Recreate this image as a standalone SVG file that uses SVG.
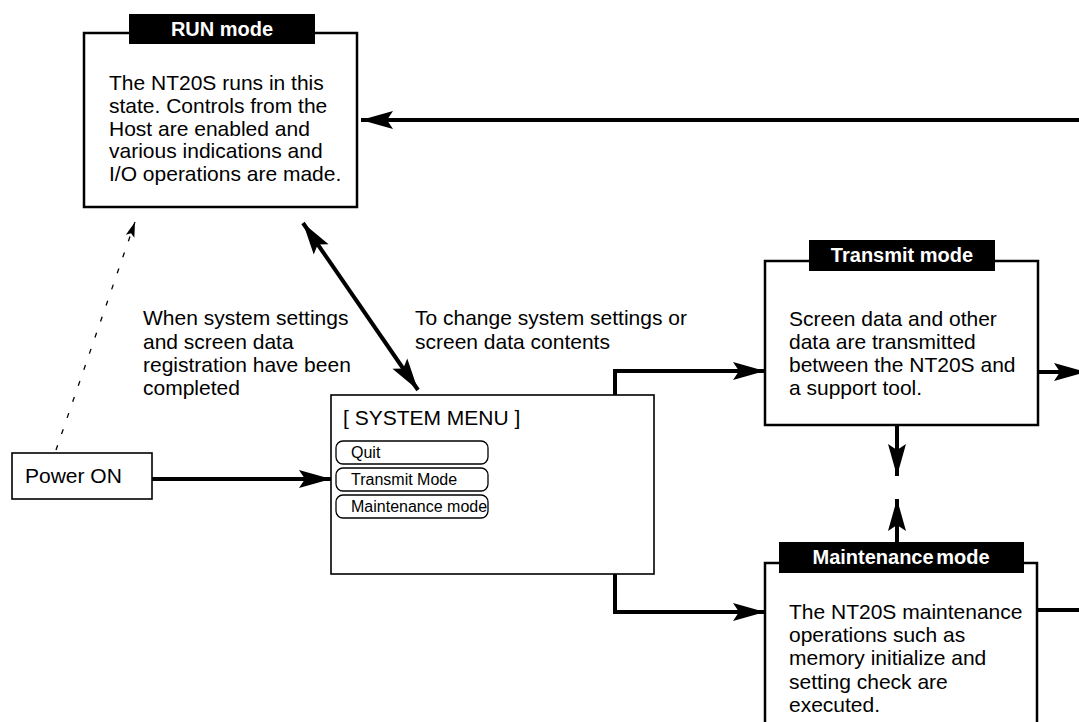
<svg xmlns="http://www.w3.org/2000/svg" width="1079" height="722" viewBox="0 0 1079 722">
<defs>
<style>
text{font-family:"Liberation Sans",Arial,sans-serif;fill:#000}
.body{font-size:21px}
.title{font-size:20px;font-weight:bold;fill:#fff}
.menu{font-size:16px}
.box{fill:#fff;stroke:#000;stroke-width:2.5}
.thin{fill:#fff;stroke:#000;stroke-width:1.6}
.btn{fill:#fff;stroke:#000;stroke-width:1.3}
.bar{fill:#000}
.conn{fill:none;stroke:#000;stroke-width:4}
.dash{fill:none;stroke:#000;stroke-width:1.3;stroke-dasharray:5 12}
</style>
<marker id="ah" markerUnits="userSpaceOnUse" markerWidth="36" markerHeight="22" viewBox="-34 -11 36 22" refX="0" refY="0" orient="auto-start-reverse">
<path d="M0,0 L-32,-9 L-26,0 L-32,9 Z" fill="#000"/>
</marker>
<marker id="ahs" markerUnits="userSpaceOnUse" markerWidth="18" markerHeight="12" viewBox="-16 -6 18 12" refX="0" refY="0" orient="auto">
<path d="M0,0 L-15,-4.5 L-12,0 L-15,4.5 Z" fill="#000"/>
</marker>
</defs>

<g id="connectors">
<line class="conn" x1="1079" y1="120" x2="361" y2="120" marker-end="url(#ah)"/>
<line class="conn" x1="303" y1="223" x2="418" y2="390" stroke-width="3.5" marker-start="url(#ah)" marker-end="url(#ah)"/>
<line class="conn" x1="152" y1="479" x2="331" y2="479" marker-end="url(#ah)"/>
<polyline class="conn" points="495,479 615,479 615,371 765,371" marker-end="url(#ah)"/>
<polyline class="conn" points="495,507 615,507 615,612 765,612" marker-end="url(#ah)"/>
<line class="conn" x1="897" y1="425" x2="897" y2="476" stroke-width="3.5" marker-end="url(#ah)"/>
<line class="conn" x1="897" y1="542" x2="897" y2="499" stroke-width="3.5" marker-end="url(#ah)"/>
<line class="conn" x1="1038" y1="372" x2="1086" y2="372" stroke-width="3.5" marker-end="url(#ah)"/>
<line class="conn" x1="1037" y1="610" x2="1079" y2="610" stroke-width="3.5"/>
<line class="dash" x1="56" y1="450" x2="135" y2="222" marker-end="url(#ahs)"/>
</g>

<g id="labels">
<text class="body" x="143" y="325">When system settings</text>
<text class="body" x="143" y="349">and screen data</text>
<text class="body" x="143" y="372">registration have been</text>
<text class="body" x="143" y="395">completed</text>
<text class="body" x="415" y="325">To change system settings or</text>
<text class="body" x="415" y="349">screen data contents</text>
</g>

<g id="run-mode">
<rect class="box" x="84" y="33" width="273" height="174"/>
<rect class="bar" x="129" y="14" width="186" height="30"/>
<text class="title" x="222" y="36" text-anchor="middle">RUN mode</text>
<text class="body" x="109" y="90">The NT20S runs in this</text>
<text class="body" x="109" y="113">state. Controls from the</text>
<text class="body" x="109" y="136">Host are enabled and</text>
<text class="body" x="109" y="158">various indications and</text>
<text class="body" x="109" y="181">I/O operations are made.</text>
</g>

<g id="power-on">
<rect class="thin" x="12" y="453" width="140" height="46"/>
<text class="body" x="25" y="483">Power ON</text>
</g>

<g id="system-menu">
<rect class="thin" x="331" y="395" width="323" height="179"/>
<text class="body" x="343" y="425">[ SYSTEM MENU ]</text>
<rect class="btn" x="336" y="441" width="152" height="23" rx="7"/>
<text class="menu" x="351" y="458">Quit</text>
<rect class="btn" x="336" y="468" width="152" height="23" rx="7"/>
<text class="menu" x="351" y="485">Transmit Mode</text>
<rect class="btn" x="336" y="495" width="152" height="23" rx="7"/>
<text class="menu" x="351" y="512">Maintenance mode</text>
</g>

<g id="transmit-mode">
<rect class="box" x="765" y="261" width="273" height="164"/>
<rect class="bar" x="809" y="240" width="186" height="31"/>
<text class="title" x="902" y="262" text-anchor="middle">Transmit mode</text>
<text class="body" x="789" y="326">Screen data and other</text>
<text class="body" x="789" y="349">data are transmitted</text>
<text class="body" x="789" y="372">between the NT20S and</text>
<text class="body" x="789" y="395">a support tool.</text>
</g>

<g id="maintenance-mode">
<rect class="box" x="765" y="563" width="272" height="180"/>
<rect class="bar" x="779" y="542" width="245" height="31"/>
<text class="title" x="901" y="564" text-anchor="middle" word-spacing="-3">Maintenance mode</text>
<text class="body" x="789" y="619">The NT20S maintenance</text>
<text class="body" x="789" y="642">operations such as</text>
<text class="body" x="789" y="665">memory initialize and</text>
<text class="body" x="789" y="689">setting check are</text>
<text class="body" x="789" y="712">executed.</text>
</g>
</svg>
